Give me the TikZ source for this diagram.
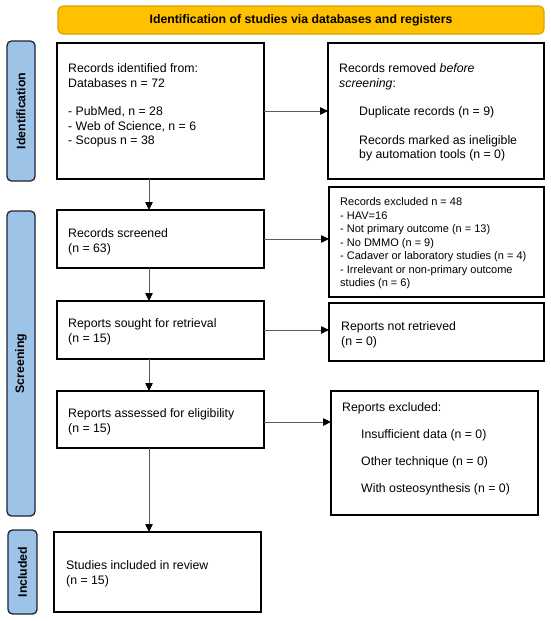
\documentclass[tikz,border=0pt]{standalone}
\usepackage{fontspec}
\setmainfont{Liberation Sans}
\usetikzlibrary{arrows.meta}
\definecolor{bannerfill}{HTML}{FFC000}
\definecolor{bannerdraw}{HTML}{D9A300}
\definecolor{sidefill}{HTML}{9DC3E6}
\definecolor{sidedraw}{HTML}{1C2534}
\definecolor{arrowcol}{HTML}{5A5A5A}
\begin{document}
\begin{tikzpicture}[x=1pt,y=-1pt,
  box/.style={draw=black, line width=1.2pt, fill=white, inner sep=0pt, outer sep=0pt},
  banner/.style={draw=bannerdraw, fill=bannerfill, line width=1.2pt, rounded corners=5pt, inner sep=0pt, outer sep=0pt,
     font=\fontsize{12.3}{14}\selectfont\bfseries},
  side/.style={draw=sidedraw, fill=sidefill, line width=1.3pt, rounded corners=4.5pt, inner sep=0pt, outer sep=0pt},
  sidetext/.style={rotate=90, font=\fontsize{12.3}{14}\selectfont\bfseries, inner sep=0pt},
  txt/.style={anchor=north west, inner sep=0pt, align=left, font=\fontsize{12.3}{14.4}\selectfont},
  smalltxt/.style={anchor=north west, inner sep=0pt, align=left, font=\fontsize{11}{13.5}\selectfont},
  flow/.style={draw=arrowcol, line width=0.8pt, -{Triangle[length=8pt,width=7.5pt,color=black]}}
]
\useasboundingbox (0,0) rectangle (550,621);

% banner and side labels
\node[banner, minimum width=486pt, minimum height=28pt] (banner) at (301,20) {Identification of studies via databases and registers};
\node[side, minimum width=28pt, minimum height=140pt] (sid) at (21,111) {};
\node[sidetext] (sidt) at (sid.center) {Identification};
\node[side, minimum width=28pt, minimum height=305pt] (sscr) at (21,363.5) {};
\node[sidetext] (sscrt) at (sscr.center) {Screening};
\node[side, minimum width=29pt, minimum height=84pt] (sinc) at (22.5,572) {};
\node[sidetext] (sinct) at (sinc.center) {Included};

% boxes
\node[box, minimum width=207pt, minimum height=136pt] (b1) at (160.5,111) {};
\node[box, minimum width=216pt, minimum height=136pt] (b2) at (436,111) {};
\node[box, minimum width=207pt, minimum height=58pt] (b3) at (160.5,239) {};
\node[box, minimum width=215pt, minimum height=110pt] (b4) at (436.5,242) {};
\node[box, minimum width=207pt, minimum height=58pt] (b5) at (160.5,330) {};
\node[box, minimum width=215pt, minimum height=58pt] (b6) at (436.5,332) {};
\node[box, minimum width=207pt, minimum height=57pt] (b7) at (160.5,419.5) {};
\node[box, minimum width=207pt, minimum height=124pt] (b8) at (434.5,453) {};
\node[box, minimum width=207pt, minimum height=80pt] (b9) at (157.5,572) {};

% texts
\node[txt] (t1) at (68,63.5) {Records identified from:\\Databases n = 72\\[14.4pt]- PubMed, n = 28\\- Web of Science, n = 6\\- Scopus n = 38};
\node[txt] (t2) at (339,63.5) {Records removed \textit{before}\\\textit{screening}:\\[14pt]\hspace*{20pt}Duplicate records (n = 9)\\[14.4pt]\hspace*{20pt}Records marked as ineligible\\\hspace*{20pt}by automation tools (n = 0)};
\node[txt] (t3) at (68,228.5) {Records screened\\(n = 63)};
\node[smalltxt] (t4) at (340,197.8) {Records excluded n = 48\\- HAV=16\\- Not primary outcome (n = 13)\\- No DMMO (n = 9)\\- Cadaver or laboratory studies (n = 4)\\- Irrelevant or non-primary outcome\\studies (n = 6)};
\node[txt] (t5) at (68,318.5) {Reports sought for retrieval\\(n = 15)};
\node[txt] (t6) at (341,321.5) {Reports not retrieved\\(n = 0)};
\node[txt] (t7) at (68,408.5) {Reports assessed for eligibility\\(n = 15)};
\node[txt] (t8) at (342,402.5) {Reports excluded:\\[12.6pt]\hspace*{19pt}Insufficient data (n = 0)\\[12.6pt]\hspace*{19pt}Other technique (n = 0)\\[12.6pt]\hspace*{19pt}With osteosynthesis (n = 0)};
\node[txt] (t9) at (66,560.5) {Studies included in review\\(n = 15)};

% connectors
\coordinate (ax) at (149,0);
\draw[flow] (b1.south -| ax) -- (b3.north -| ax);
\draw[flow] (b3.south -| ax) -- (b5.north -| ax);
\draw[flow] (b5.south -| ax) -- (b7.north -| ax);
\draw[flow] (b7.south -| ax) -- (b9.north -| ax);
\draw[flow] (b1.east) -- (b2.west);
\draw[flow] (b3.east) -- (b3.east -| b4.west);
\draw[flow] (b5.east) -- (b5.east -| b6.west);
\draw[flow] ([yshift=-2.5pt]b7.east) -- ([yshift=-2.5pt]b7.east -| b8.west);
\end{tikzpicture}
\end{document}
